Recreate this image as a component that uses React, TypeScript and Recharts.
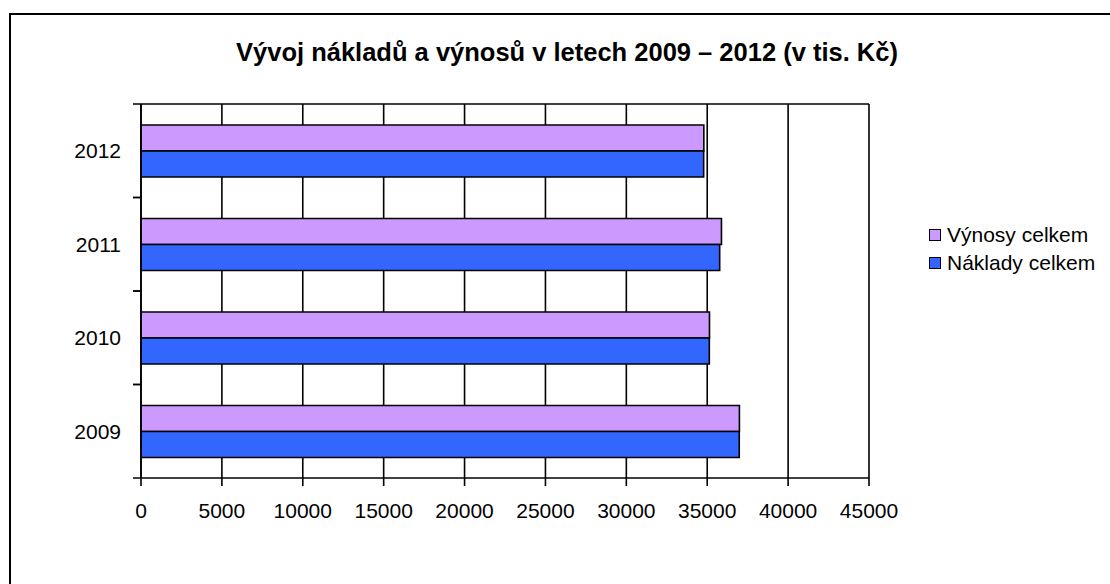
import { BarChart, Bar, XAxis, YAxis, CartesianGrid } from "recharts";

const years = ["2009", "2010", "2011", "2012"];
const vynosy = [36990, 35140, 35880, 34790];
const naklady = [36980, 35130, 35770, 34780];
const xTicks = [0, 5000, 10000, 15000, 20000, 25000, 30000, 35000, 40000, 45000];
const series = [
    { key: "vynosy", label: "Výnosy celkem", color: "#CC99FF" },
    { key: "naklady", label: "Náklady celkem", color: "#3366FF" }
];

const data = years.map((y, i) => ({ year: y, vynosy: vynosy[i], naklady: naklady[i] }));

const FONT = "'Liberation Sans', Arial, sans-serif";
const PLOT_H = 374;

function YearTick(props: any) {
    const { x, y, payload } = props;
    const band = PLOT_H / years.length;
    return (
        <g>
            <line x1={x - 8} x2={x} y1={y - band / 2} y2={y - band / 2} stroke="#000" strokeWidth={1.5} />
            <line x1={x - 8} x2={x} y1={y + band / 2} y2={y + band / 2} stroke="#000" strokeWidth={1.5} />
            <text x={x - 20} y={y} dy="0.36em" textAnchor="end" fontSize={21} fill="#000" fontFamily={FONT}>
                {payload.value}
            </text>
        </g>
    );
}

export default function App() {
    return (
        <div style={{ position: "absolute", left: 0, top: 0, width: 1110, height: 584, overflow: "hidden", background: "#fff" }}>
            <div style={{ position: "absolute", left: 9, top: 13, width: 1200, height: 700, border: "2px solid #000" }} />
            <div style={{ position: "absolute", left: 0, top: 0 }}>
                <BarChart
                    width={1110}
                    height={584}
                    data={data}
                    layout="vertical"
                    margin={{ top: 104, right: 241, bottom: 76, left: 81 }}
                    barSize={26}
                    barGap={0}
                >
                    <text x={567} y={54} textAnchor="middle" dominantBaseline="middle" fontSize={25.5} fontWeight="bold" fontFamily={FONT} fill="#000">
                        Vývoj nákladů a výnosů v letech 2009 – 2012 (v tis. Kč)
                    </text>
                    <CartesianGrid
                        stroke="#000"
                        strokeWidth={1.6}
                        horizontalCoordinatesGenerator={({ offset }: any) => [offset.top]}
                    />
                    <XAxis
                        type="number"
                        domain={[0, 45000]}
                        ticks={xTicks}
                        interval={0}
                        height={30}
                        stroke="#000"
                        strokeWidth={1.6}
                        tickSize={8}
                        tickMargin={17}
                        tick={{ fontSize: 21, fill: "#000", fontFamily: FONT }}
                    />
                    <YAxis
                        type="category"
                        dataKey="year"
                        reversed
                        width={60}
                        stroke="#000"
                        strokeWidth={1.6}
                        tickLine={false}
                        tickSize={0}
                        tickMargin={0}
                        tick={<YearTick />}
                    />
                    {series.map((s) => (
                        <Bar key={s.key} dataKey={s.key} name={s.label} fill={s.color} stroke="#000" strokeWidth={1.6} isAnimationActive={false} />
                    ))}
                </BarChart>
            </div>
            <div style={{ position: "absolute", left: 929, top: 221, fontFamily: FONT, fontSize: 21, color: "#000" }}>
                {series.map((s) => (
                    <div key={s.key} style={{ display: "flex", alignItems: "center", height: 28 }}>
                        <span style={{ width: 10, height: 10, background: s.color, border: "1.5px solid #000", marginRight: 6 }} />
                        <span>{s.label}</span>
                    </div>
                ))}
            </div>
        </div>
    );
}
